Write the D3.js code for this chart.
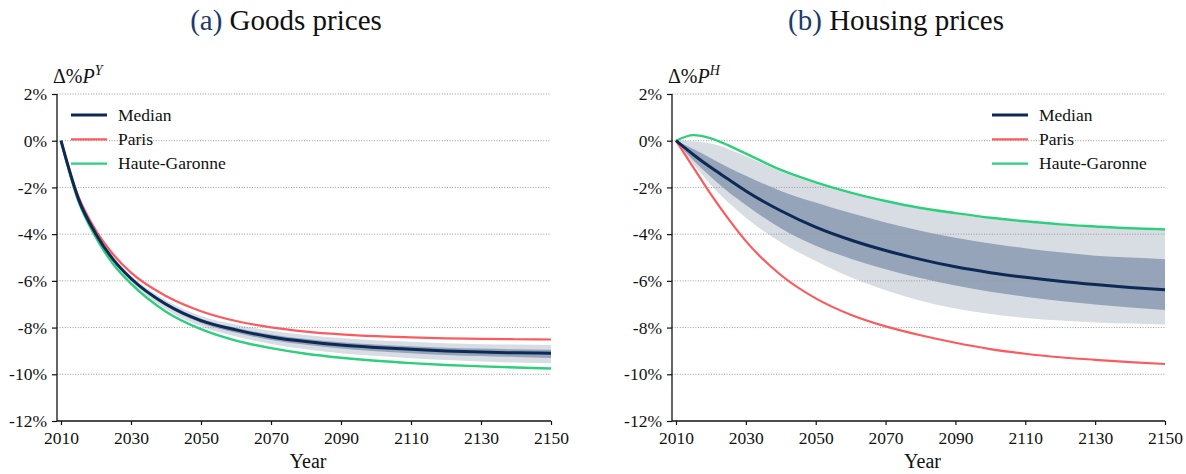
<!DOCTYPE html>
<html>
<head>
<meta charset="utf-8">
<script src="https://cdn.jsdelivr.net/npm/d3@7"></script>
<style>
  html, body { margin: 0; padding: 0; background: #fff; }
  svg { display: block; }
  svg text { font-family: "Liberation Serif", "Times New Roman", serif; }
</style>
</head>
<body>
<svg id="chart" width="1186" height="474"></svg>
<script>
// Simulation years
const years = [2010, 2015, 2020, 2025, 2030, 2040, 2050, 2060, 2070, 2080, 2090, 2100, 2110, 2120, 2130, 2140, 2150];

// (a) Goods prices, % change
const goodsMedian        = [0, -2.50, -4.00, -5.10, -5.90, -7.00, -7.70, -8.10, -8.40, -8.60, -8.75, -8.85, -8.93, -9.00, -9.05, -9.08, -9.10];
const goodsParis         = [0, -2.40, -3.85, -4.88, -5.65, -6.65, -7.30, -7.72, -7.99, -8.17, -8.29, -8.37, -8.42, -8.46, -8.48, -8.50, -8.51];
const goodsHauteGaronne  = [0, -2.60, -4.15, -5.30, -6.12, -7.32, -8.07, -8.56, -8.88, -9.12, -9.29, -9.42, -9.52, -9.60, -9.66, -9.71, -9.75];
const goodsOuterHigh     = [0, -2.45, -3.92, -4.98, -5.77, -6.83, -7.50, -7.87, -8.14, -8.32, -8.45, -8.54, -8.61, -8.67, -8.71, -8.73, -8.75];
const goodsOuterLow      = [0, -2.56, -4.10, -5.23, -6.05, -7.20, -7.94, -8.38, -8.70, -8.93, -9.10, -9.22, -9.31, -9.39, -9.45, -9.50, -9.53];
const goodsInnerHigh     = [0, -2.48, -3.97, -5.06, -5.85, -6.93, -7.62, -8.01, -8.30, -8.49, -8.63, -8.72, -8.80, -8.86, -8.90, -8.93, -8.95];
const goodsInnerLow      = [0, -2.52, -4.04, -5.15, -5.96, -7.08, -7.80, -8.22, -8.53, -8.74, -8.90, -9.01, -9.10, -9.17, -9.22, -9.26, -9.30];

// (b) Housing prices, % change
const housingMedian       = [0, -0.60, -1.15, -1.65, -2.15, -3.00, -3.70, -4.25, -4.70, -5.08, -5.40, -5.65, -5.85, -6.02, -6.16, -6.28, -6.38];
const housingParis        = [0, -1.15, -2.30, -3.35, -4.30, -5.75, -6.75, -7.45, -7.95, -8.33, -8.65, -8.92, -9.12, -9.27, -9.38, -9.48, -9.56];
const housingHauteGaronne = [0,  0.24,  0.10, -0.20, -0.55, -1.25, -1.78, -2.22, -2.58, -2.88, -3.10, -3.30, -3.45, -3.58, -3.67, -3.75, -3.80];
const housingOuterHigh    = [0, -0.03, -0.12, -0.35, -0.66, -1.32, -1.84, -2.27, -2.62, -2.92, -3.14, -3.34, -3.49, -3.62, -3.71, -3.79, -3.85];
const housingOuterLow     = [0, -1.00, -1.90, -2.65, -3.30, -4.35, -5.15, -5.85, -6.40, -6.85, -7.18, -7.42, -7.59, -7.70, -7.78, -7.83, -7.87];
const housingInnerHigh    = [0, -0.35, -0.75, -1.15, -1.50, -2.15, -2.65, -3.10, -3.50, -3.85, -4.15, -4.40, -4.60, -4.78, -4.92, -5.00, -5.07];
const housingInnerLow     = [0, -0.85, -1.55, -2.20, -2.75, -3.75, -4.50, -5.05, -5.50, -5.88, -6.20, -6.47, -6.68, -6.86, -7.01, -7.14, -7.25];

// Axis ticks
const xTicks = [2010, 2030, 2050, 2070, 2090, 2110, 2130, 2150];
const yTicks = [2, 0, -2, -4, -6, -8, -10, -12];
const seriesNames = ["Median", "Paris", "Haute-Garonne"];

const serif = "'Liberation Serif', 'Times New Roman', serif";
const colors = {
  median: "#0c2a55",
  paris: "#fb5b5e",
  hg: "#2ecf7c",
  inner: "#95a4b8",
  outer: "#d8dde4",
  titleTag: "#1c3b6c"
};

const svg = d3.select("#chart");

function drawPanel(cfg) {
  const g = svg.append("g");
  const x = d3.scaleLinear().domain([2010, 2150]).range([cfg.x0, cfg.x1]);
  const y = d3.scaleLinear().domain([-12, 2]).range([421, 94]);
  const axisLeftX = cfg.x0 - 4;

  const zip = (a, b) => years.map((yr, i) => ({ yr, lo: a[i], hi: b[i] }));
  const area = d3.area().x(d => x(d.yr)).y0(d => y(d.lo)).y1(d => y(d.hi)).curve(d3.curveMonotoneX);
  const line = d3.line().x(d => x(d[0])).y(d => y(d[1])).curve(d3.curveMonotoneX);
  const pts = arr => years.map((yr, i) => [yr, arr[i]]);

  // Uncertainty bands
  g.append("path").attr("d", area(zip(cfg.outerLow, cfg.outerHigh))).attr("fill", colors.outer);
  g.append("path").attr("d", area(zip(cfg.innerLow, cfg.innerHigh))).attr("fill", colors.inner);

  // Dotted horizontal grid
  g.append("g").selectAll("line")
    .data(yTicks.filter(t => t > -12))
    .join("line")
    .attr("x1", axisLeftX).attr("x2", cfg.x1)
    .attr("y1", d => y(d)).attr("y2", d => y(d))
    .attr("stroke", "#9a9a9a").attr("stroke-width", 1)
    .attr("stroke-dasharray", "1,1.6");

  // Series lines
  g.append("path").attr("d", line(pts(cfg.paris))).attr("fill", "none")
    .attr("stroke", colors.paris).attr("stroke-width", 2.2);
  g.append("path").attr("d", line(pts(cfg.hg))).attr("fill", "none")
    .attr("stroke", colors.hg).attr("stroke-width", 2.4);
  g.append("path").attr("d", line(pts(cfg.median))).attr("fill", "none")
    .attr("stroke", colors.median).attr("stroke-width", 3);

  // Axes
  const yAxis = d3.axisLeft(y).tickValues(yTicks).tickSize(5).tickPadding(5)
    .tickFormat(d => d + "%");
  const ya = g.append("g").attr("transform", `translate(${axisLeftX},0)`).call(yAxis);
  ya.attr("font-family", null).attr("font-size", null);
  ya.select(".domain").remove();
  ya.append("line").attr("x1", 0).attr("x2", 0).attr("y1", y(2)).attr("y2", y(-12))
    .attr("stroke", "#111").attr("stroke-width", 1.3);
  ya.selectAll(".tick line").attr("stroke", "#111").attr("stroke-width", 1.2);
  ya.selectAll("text").style("font-family", serif).style("font-size", "17.5px").attr("fill", "#111");

  const xAxis = d3.axisBottom(x).tickValues(xTicks).tickSize(4).tickPadding(7)
    .tickFormat(d3.format("d"));
  const xa = g.append("g").attr("transform", `translate(0,${y(-12)})`).call(xAxis);
  xa.attr("font-family", null).attr("font-size", null);
  xa.select(".domain").remove();
  xa.append("line").attr("x1", axisLeftX).attr("x2", cfg.x1).attr("y1", 0).attr("y2", 0)
    .attr("stroke", "#111").attr("stroke-width", 1.3);
  xa.selectAll(".tick line").attr("stroke", "#111").attr("stroke-width", 1.2);
  xa.selectAll("text").style("font-family", serif).style("font-size", "17.5px").attr("fill", "#111");

  // Axis titles
  g.append("text").attr("x", (cfg.x0 + cfg.x1) / 2 + 2).attr("y", 468)
    .attr("text-anchor", "middle").attr("font-size", "20px").attr("fill", "#111").text("Year");

  const yl = g.append("text").attr("x", axisLeftX - 4).attr("y", 83)
    .attr("font-size", "20px").attr("fill", "#111");
  yl.append("tspan").text("Δ%");
  yl.append("tspan").attr("font-style", "italic").text("P");
  yl.append("tspan").attr("font-style", "italic").attr("font-size", "14px").attr("dy", -8).text(cfg.sup);

  // Panel title
  const t = svg.append("text").attr("x", cfg.titleX).attr("y", 30)
    .attr("text-anchor", "middle").attr("font-size", "29px").attr("fill", "#111");
  t.append("tspan").attr("fill", colors.titleTag).text(cfg.tag);
  t.append("tspan").text(" " + cfg.title);

  // Legend
  const legColors = [colors.median, colors.paris, colors.hg];
  const legWidths = [3, 2.2, 2.4];
  const leg = g.append("g");
  seriesNames.forEach((name, i) => {
    const ly = 115 + i * 24.3;
    leg.append("line").attr("x1", cfg.legX).attr("x2", cfg.legX + 36)
      .attr("y1", ly).attr("y2", ly)
      .attr("stroke", legColors[i]).attr("stroke-width", legWidths[i]);
    leg.append("text").attr("x", cfg.legX + 47).attr("y", ly + 5.5)
      .attr("font-size", "17.5px").attr("fill", "#111").text(name);
  });
}

drawPanel({
  x0: 61, x1: 551, titleX: 286, tag: "(a)", title: "Goods prices", sup: "Y", legX: 71,
  median: goodsMedian, paris: goodsParis, hg: goodsHauteGaronne,
  outerHigh: goodsOuterHigh, outerLow: goodsOuterLow,
  innerHigh: goodsInnerHigh, innerLow: goodsInnerLow
});

drawPanel({
  x0: 676, x1: 1165, titleX: 896, tag: "(b)", title: "Housing prices", sup: "H", legX: 992,
  median: housingMedian, paris: housingParis, hg: housingHauteGaronne,
  outerHigh: housingOuterHigh, outerLow: housingOuterLow,
  innerHigh: housingInnerHigh, innerLow: housingInnerLow
});
</script>
</body>
</html>
